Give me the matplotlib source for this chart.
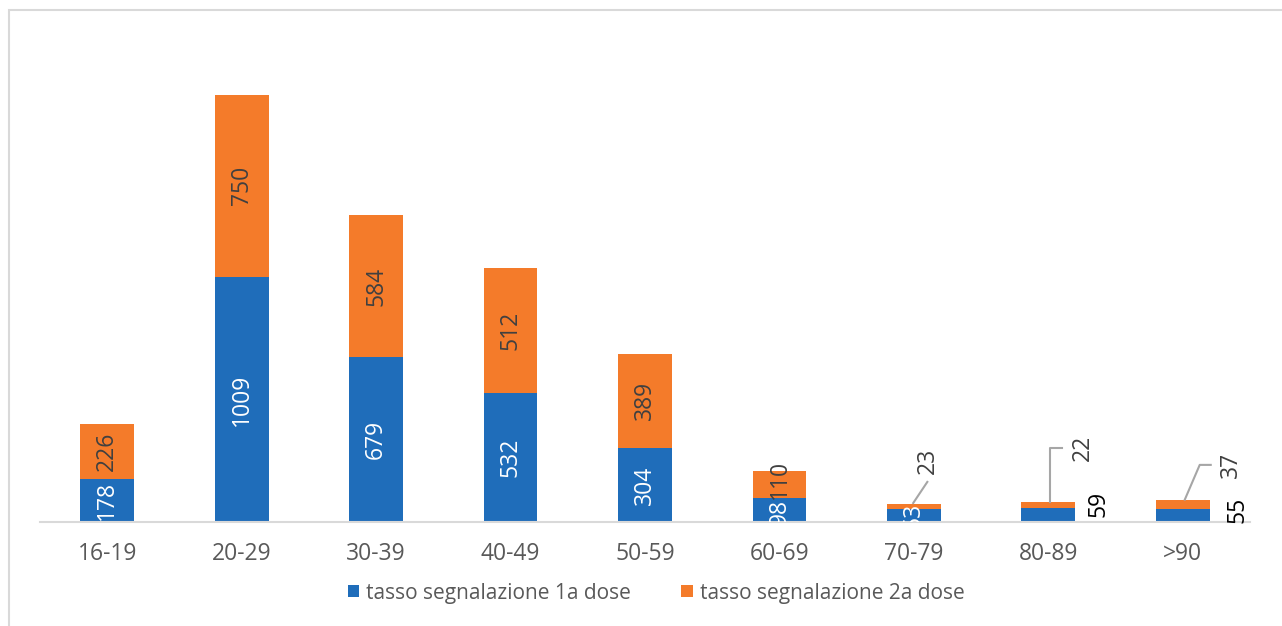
import numpy as np
import matplotlib
matplotlib.use("Agg")
import matplotlib.pyplot as plt
from matplotlib.patches import Rectangle

plt.rcParams['font.family'] = ['Open Sans', 'DejaVu Sans']

# data
fasce = ["16-19", "20-29", "30-39", "40-49", "50-59", "60-69", "70-79", "80-89", ">90"]
dose1 = [178, 1009, 679, 532, 304, 98, 53, 59, 55]
dose2 = [226, 750, 584, 512, 389, 110, 23, 22, 37]
nome1 = "tasso segnalazione 1a dose"
nome2 = "tasso segnalazione 2a dose"

blue = "#1f6dba"
orange = "#f47b2a"
lab_grey = "#404040"
axis_grey = "#d9d9d9"
lead_grey = "#a6a6a6"
fs = 16.5

fig = plt.figure(figsize=(12.82, 6.26), dpi=100)
ax = fig.add_axes([40/1282, 1 - 522/626, 1210/1282, 486/626])

x = np.arange(len(fasce))
w = 0.4
d1 = np.array(dose1)
d2 = np.array(dose2)
ax.bar(x, d1, w, color=blue, label=nome1)
ax.bar(x, d2, w, bottom=d1, color=orange, label=nome2)

ax.set_xlim(-0.5, len(fasce) - 0.5)
ax.set_ylim(0, 2000)
ax.set_yticks([])
ax.set_xticks(x)
ax.set_xticklabels(fasce, fontsize=fs, color="#595959")
ax.tick_params(axis="x", length=0, pad=14.5)
for s in ["top", "right", "left"]:
    ax.spines[s].set_visible(False)
ax.spines["bottom"].set_color(axis_grey)
ax.spines["bottom"].set_linewidth(1.5)

# labels inside the segments (first 7 categories); small nudges where they crowd
nudge1 = {5: -8}
nudge2 = {5: 22}
for i in range(7):
    ax.text(x[i], d1[i] / 2 + nudge1.get(i, 0), str(d1[i]), rotation=90,
            ha="center", va="center", fontsize=fs, color="white", clip_on=True)
    if i < 6:
        ax.text(x[i], d1[i] + d2[i] / 2 + nudge2.get(i, 0), str(d2[i]), rotation=90,
                ha="center", va="center", fontsize=fs, color=lab_grey, clip_on=True)

# moved labels with leader lines: (category, x offset of text, y of text)
moved = [(6, 0.107, 251), (7, 0.26, 305), (8, 0.357, 235)]
for i, dx, ty in moved:
    top = d1[i] + d2[i]
    if i == 6:
        lx = [x[i] - 0.005, x[i] + 0.1]
        ly = [top + 2, ty - 86]
    elif i == 7:
        lx = [x[i] + 0.015, x[i] + 0.015, x[i] + 0.104]
        ly = [top, ty, ty]
    else:
        lx = [x[i] + 0.015, x[i] + 0.126, x[i] + 0.208]
        ly = [top, ty, ty]
    ax.plot(lx, ly, color=lead_grey, lw=1.5, clip_on=False)
    ax.text(x[i] + dx, ty, str(d2[i]), rotation=90, ha="center", va="center",
            fontsize=fs, color=lab_grey)

# blue labels placed beside the last two bars
for i, dx, ty in [(7, 0.372, 74), (8, 0.41, 49)]:
    ax.text(x[i] + dx, ty, str(d1[i]), rotation=90, ha="center", va="center",
            fontsize=fs, color="black")

leg = ax.legend(loc="center", bbox_to_anchor=(656/1282, 1 - 593/626), bbox_transform=fig.transFigure,
                ncol=2, frameon=False, fontsize=15, handlelength=0.55, handleheight=0.55,
                handletextpad=0.34, columnspacing=2.4)
for t in leg.get_texts():
    t.set_color("#595959")

# outer chart border
fig.patches.append(Rectangle((9/1282, -0.1), 1.2, 1.1 - 10/626, transform=fig.transFigure,
                             fill=False, edgecolor=axis_grey, lw=1.5))

fig.savefig("out.png", dpi=100)
